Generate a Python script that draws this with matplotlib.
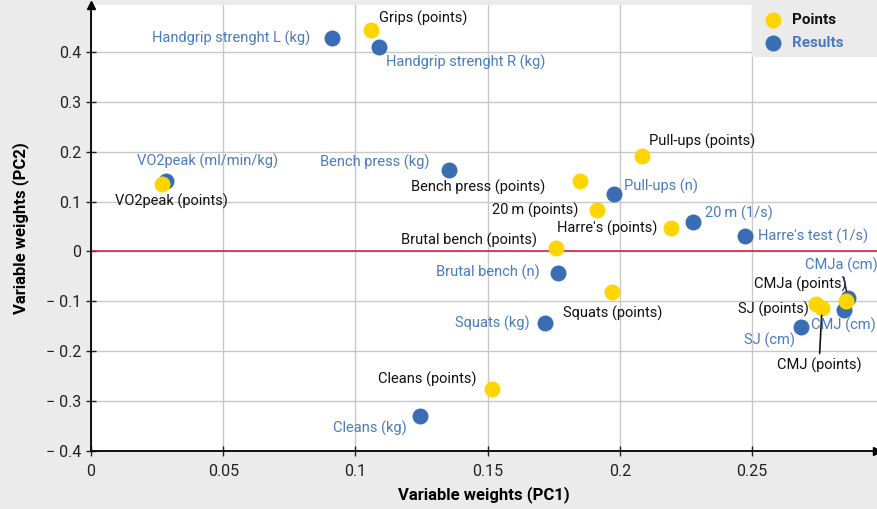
import numpy as np
import matplotlib
matplotlib.use("Agg")
import matplotlib.pyplot as plt
from matplotlib.patches import Rectangle

plt.rcParams['font.family'] = ['Roboto', 'DejaVu Sans']

# PCA variable weights
pts_names = ["Grips (points)", "Pull-ups (points)", "Bench press (points)", "20\u2009m (points)",
             "Harre's (points)", "Brutal bench (points)", "Squats (points)", "VO2peak (points)",
             "Cleans (points)", "CMJa (points)", "SJ (points)", "CMJ (points)"]
pts_pc1 = [0.1059, 0.2084, 0.1850, 0.1914, 0.2194, 0.1759, 0.1970, 0.0269, 0.1517, 0.2856, 0.2742, 0.2765]
pts_pc2 = [0.444, 0.192, 0.142, 0.084, 0.046, 0.006, -0.082, 0.136, -0.276, -0.100, -0.106, -0.114]

res_names = ["Handgrip strenght L (kg)", "Handgrip strenght R (kg)", "VO2peak (ml/min/kg)",
             "Bench press (kg)", "Pull-ups (n)", "20\u2009m (1/s)", "Harre's test (1/s)",
             "Brutal bench (n)", "Squats (kg)", "Cleans (kg)", "SJ (cm)", "CMJ (cm)", "CMJa (cm)"]
res_pc1 = [0.0911, 0.1089, 0.0284, 0.1354, 0.1978, 0.2277, 0.2474, 0.1766, 0.1717, 0.1244, 0.2685, 0.2848, 0.2863]
res_pc2 = [0.428, 0.410, 0.142, 0.164, 0.116, 0.060, 0.030, -0.044, -0.144, -0.330, -0.152, -0.118, -0.094]

# label placement (pixel offsets from the dot, alignment, leader line)
pts_off = [(8, 12, 'left'), (7, 14, 'left'), (-35, -7, 'right'), (-19, -1, 'right'),
           (-14, 0, 'right'), (-19, 8, 'right'), (1, -21, 'center'), (9, -18, 'center'),
           (-16, 10, 'right'), (1, 17, 'right'), (-7, -5, 'right'), (-3, -57, 'center')]
pts_lead = [False] * 11 + [True]
res_off = [(-22, 0, 'right'), (7, -15, 'left'), (41, 19, 'center'), (-19, 7, 'right'),
           (10, 7, 'left'), (12, 8, 'left'), (13, 0, 'left'), (-18, 1, 'right'),
           (-15, 0, 'right'), (-13, -12, 'right'), (-6, -13, 'right'), (-33, -15, 'left'),
           (-43, 33, 'left')]
res_lead = [False] * 12 + [True]

yellow = '#ffd500'
blue = '#3a6db4'
blue_txt = '#4a7bc0'

fig = plt.figure(figsize=(8.77, 5.09), dpi=100, facecolor='#ebebeb')
ax = fig.add_axes([91 / 877, 1 - 451 / 509, 1 - 91 / 877, (451 - 5) / 509])
ax.set_facecolor('white')

ax.set_xlim(0, 0.2973)
ax.set_ylim(-0.4, 0.494)
ax.set_xticks([0, 0.05, 0.1, 0.15, 0.2, 0.25])
ax.set_xticklabels(['0', '0.05', '0.1', '0.15', '0.2', '0.25'])
yt = [-0.4, -0.3, -0.2, -0.1, 0, 0.1, 0.2, 0.3, 0.4]
ax.set_yticks(yt)
ax.set_yticklabels([('\u2212 %g' % abs(v)) if v < 0 else '%g' % v for v in yt])
ax.tick_params(direction='inout', length=7, width=1, labelsize=11.5, colors='#222222')
ax.tick_params(axis='x', pad=6)
ax.grid(True, color='#c8c8c8', lw=1, zorder=0)
ax.set_axisbelow(True)
ax.axhline(0, color='#d2143c', lw=1.1, zorder=1)

for s in ['top', 'right']:
    ax.spines[s].set_visible(False)
for s in ['left', 'bottom']:
    ax.spines[s].set_linewidth(1.3)
ax.plot(1, 0, '>', color='black', ms=6, transform=ax.transAxes, clip_on=False)
ax.plot(0, 1, '^', color='black', ms=6, transform=ax.transAxes, clip_on=False)

ax.scatter(res_pc1, res_pc2, s=110, color=blue, zorder=3, label='Results')
ax.scatter(pts_pc1, pts_pc2, s=110, color=yellow, zorder=4, label='Points')

def put_labels(names, xs, ys, offs, leads, col, lead_col):
    for n, x, y, (dx, dy, ha), ld in zip(names, xs, ys, offs, leads):
        kw = {}
        if ld:
            kw['arrowprops'] = dict(arrowstyle='-', color=lead_col, lw=1.2, shrinkA=1, shrinkB=5)
        ax.annotate(n, (x, y), xytext=(dx, dy), textcoords='offset pixels', ha=ha, va='center',
                    fontsize=10.5, color=col, zorder=5, annotation_clip=False, **kw)

put_labels(pts_names, pts_pc1, pts_pc2, pts_off, pts_lead, '#111111', '#111111')
put_labels(res_names, res_pc1, res_pc2, res_off, res_lead, blue_txt, '#1f3559')

ax.set_xlabel('Variable weights (PC1)', fontsize=12, fontweight='bold', labelpad=5)
ax.set_ylabel('Variable weights (PC2)', fontsize=12, fontweight='bold', labelpad=12)

# grey legend box in the top right corner
fig.patches.append(Rectangle((752 / 877, 1 - 57 / 509), 125 / 877, 57 / 509,
                             transform=fig.transFigure, facecolor='#ebebeb',
                             edgecolor='none', zorder=10))
h, l = ax.get_legend_handles_labels()
leg = fig.legend(h[::-1], l[::-1], loc='upper left', bbox_to_anchor=(752 / 877, 1),
                 frameon=False, borderaxespad=0, prop={'weight': 'bold', 'size': 11},
                 handlelength=1.0, handletextpad=0.75, borderpad=0.85, labelspacing=0.6)
leg.set_zorder(11)
leg.get_texts()[0].set_color('#111111')
leg.get_texts()[1].set_color(blue_txt)

fig.savefig('out.png', dpi=100, facecolor=fig.get_facecolor())
